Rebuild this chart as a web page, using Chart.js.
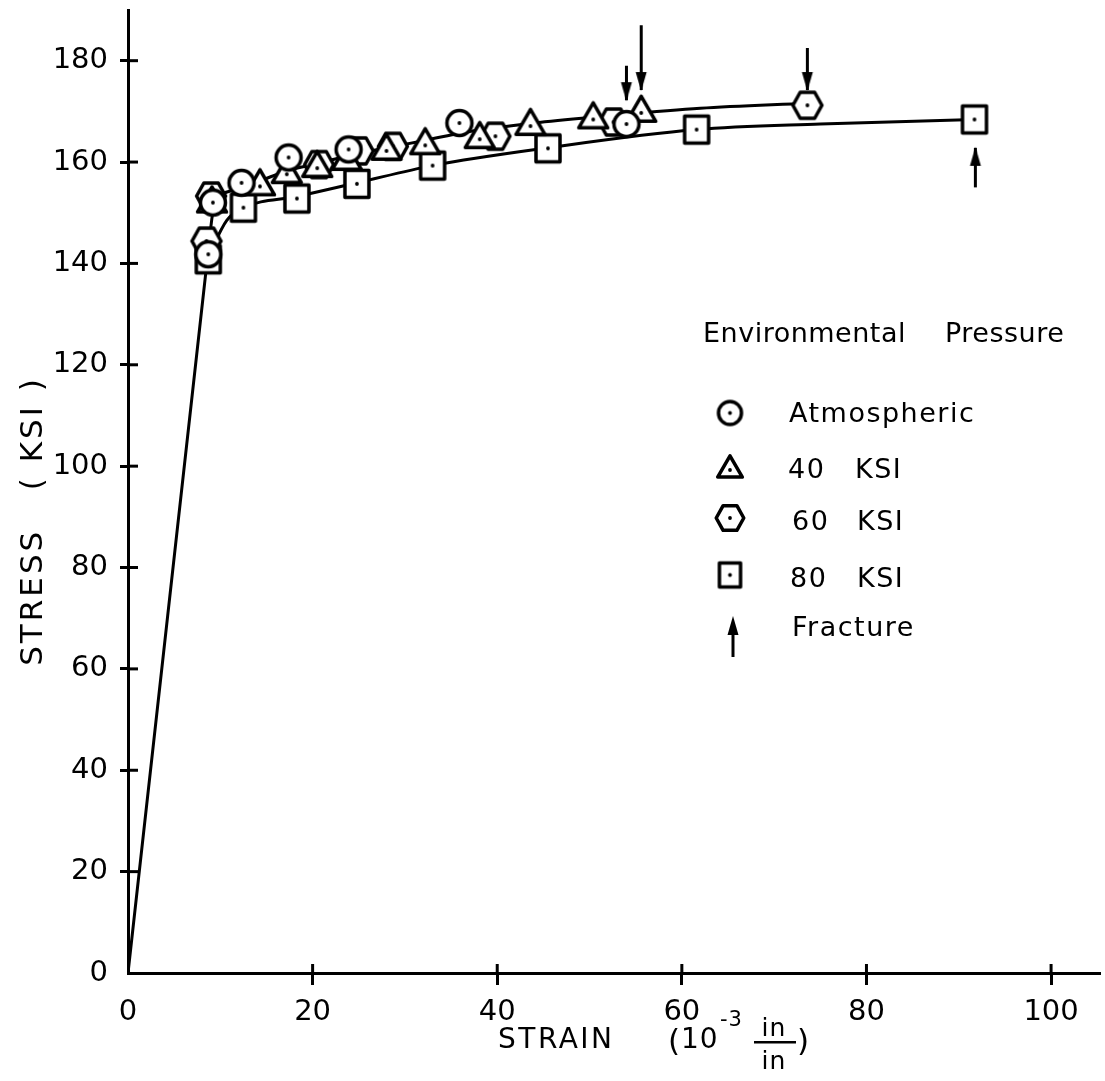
<!DOCTYPE html>
<html>
<head>
<meta charset="utf-8">
<script src="https://cdn.jsdelivr.net/npm/chart.js@4.4.1/dist/chart.umd.min.js"></script>
<style>
    html, body { margin: 0; padding: 0; background: #fff; }
</style>
</head>
<body>
<canvas id="chart" width="1105" height="1081"></canvas>
<script>
// fitted curves (strain in 10^-3 in/in, stress in ksi)
const elasticStrain = [0, 8.6];
const elasticStress = [0, 141];
const upperStrain = [8.6, 9.3, 11.5, 14.3, 17.3, 20.5, 24, 28, 32, 36.5, 44, 51.5, 62, 73.6];
const upperStress = [141, 151, 154.5, 156.3, 158.3, 159.7, 161.3, 162.8, 164.2, 165.9, 167.7, 169, 170.6, 171.6];
const lowerStrain = [8.6, 10.7, 12.5, 18.3, 24.8, 33, 45.5, 61.6, 75, 91.7];
const lowerStress = [141, 148.5, 151, 153.2, 155.9, 159.3, 162.8, 166.4, 167.5, 168.4];

// test points, one pair of arrays per environmental pressure
const atmStrain = [8.7, 9.2, 12.3, 17.4, 23.9, 35.9, 54.0];
const atmStress = [141.8, 152, 155.9, 160.9, 162.5, 167.7, 167.5];
const ksi40Strain = [9.1, 14.3, 17.2, 20.5, 23.7, 28.0, 32.2, 38.1, 43.6, 50.4, 55.6];
const ksi40Stress = [151.8, 155.2, 157.6, 158.8, 160.2, 162.2, 163.3, 164.5, 167.1, 168.4, 169.7];
const ksi60Strain = [8.5, 9.0, 20.7, 25.0, 28.7, 39.8, 52.6, 73.6];
const ksi60Stress = [144.4, 153.3, 159.5, 162.2, 163.1, 165.1, 167.9, 171.2];
const ksi80Strain = [8.7, 12.5, 18.3, 24.8, 33.0, 45.5, 61.6, 91.7];
const ksi80Stress = [140.8, 151, 152.8, 155.7, 159.3, 162.7, 166.4, 168.4];

// fracture arrows: tail -> tip
const arrowStrain = [54.0, 55.6, 73.6, 91.8];
const arrowTail = [179, 187, 182.5, 155];
const arrowTip = [172.2, 174.2, 174.2, 162.8];

const FONT = 'DejaVu Sans';
Chart.defaults.font.family = FONT;
Chart.defaults.color = '#000';

function makeMarker(shape, s) {
    const c = document.createElement('canvas');
    c.width = Math.round(42 * s);
    c.height = Math.round(42 * s);
    const ctx = c.getContext('2d');
    const cx = c.width / 2, cy = c.height / 2;
    ctx.lineWidth = 3.5;
    ctx.strokeStyle = '#000';
    ctx.fillStyle = '#fff';
    ctx.lineJoin = 'round';
    ctx.beginPath();
    if (shape === 'circle') {
        ctx.arc(cx, cy, 12.5 * s, 0, Math.PI * 2);
    } else if (shape === 'triangle') {
        const a = 29 * s, h = a * Math.sqrt(3) / 2;
        ctx.moveTo(cx, cy - 2 * h / 3);
        ctx.lineTo(cx + a / 2, cy + h / 3);
        ctx.lineTo(cx - a / 2, cy + h / 3);
        ctx.closePath();
    } else if (shape === 'hexagon') {
        const rx = 14.5 * s, ry = 13 * s;
        ctx.moveTo(cx - rx, cy);
        ctx.lineTo(cx - rx / 2, cy - ry);
        ctx.lineTo(cx + rx / 2, cy - ry);
        ctx.lineTo(cx + rx, cy);
        ctx.lineTo(cx + rx / 2, cy + ry);
        ctx.lineTo(cx - rx / 2, cy + ry);
        ctx.closePath();
    } else {
        ctx.rect(cx - 12 * s, cy - 13.5 * s, 24 * s, 27 * s);
    }
    ctx.fill();
    ctx.stroke();
    ctx.fillStyle = '#000';
    ctx.beginPath();
    ctx.arc(cx, cy, 1.9, 0, Math.PI * 2);
    ctx.fill();
    return c;
}

// arrow head with its tip at the canvas centre, pointing up
function makeArrowHead() {
    const c = document.createElement('canvas');
    c.width = 14;
    c.height = 40;
    const ctx = c.getContext('2d');
    ctx.fillStyle = '#000';
    ctx.beginPath();
    ctx.moveTo(7, 19);
    ctx.lineTo(12.5, 38);
    ctx.lineTo(1.5, 38);
    ctx.closePath();
    ctx.fill();
    return c;
}

const markers = {
    circle: makeMarker('circle', 1),
    triangle: makeMarker('triangle', 1),
    hexagon: makeMarker('hexagon', 1),
    square: makeMarker('square', 1),
};
const legendMarkers = {
    circle: makeMarker('circle', 0.92),
    triangle: makeMarker('triangle', 0.85),
    hexagon: makeMarker('hexagon', 0.95),
    square: makeMarker('square', 0.88),
};
const arrowHead = makeArrowHead();

function toPoints(xs, ys) {
    return xs.map((x, i) => ({ x: x, y: ys[i] }));
}

function curveDataset(xs, ys) {
    return {
        type: 'line',
        data: toPoints(xs, ys),
        borderColor: '#000',
        borderWidth: 3,
        pointRadius: 0,
        cubicInterpolationMode: 'monotone',
        fill: false,
        order: 10,
    };
}

function markerDataset(label, xs, ys, style) {
    return {
        type: 'line',
        label: label,
        data: toPoints(xs, ys),
        showLine: false,
        pointStyle: style,
        pointRadius: 12,
        order: 1,
    };
}

const arrowDatasets = arrowStrain.map((x, i) => ({
    type: 'line',
    data: [{ x: x, y: arrowTail[i] }, { x: x, y: arrowTip[i] }],
    borderColor: '#000',
    borderWidth: 3,
    pointRadius: [0, 6],
    pointStyle: arrowHead,
    rotation: arrowTip[i] > arrowTail[i] ? 0 : 180,
    order: 5,
}));

// inner half of the tick marks (Chart.js only draws them outside)
const innerTicks = {
    id: 'innerTicks',
    afterDraw(chart) {
        const ctx = chart.ctx;
        const area = chart.chartArea;
        const xs = chart.scales.x, ys = chart.scales.y;
        ctx.save();
        ctx.strokeStyle = '#000';
        ctx.lineWidth = 3;
        xs.ticks.forEach(t => {
            if (t.value === 0) return;
            const px = xs.getPixelForValue(t.value);
            ctx.beginPath();
            ctx.moveTo(px, area.bottom);
            ctx.lineTo(px, area.bottom - 9);
            ctx.stroke();
        });
        ys.ticks.forEach(t => {
            if (t.value === 0) return;
            const py = ys.getPixelForValue(t.value);
            ctx.beginPath();
            ctx.moveTo(area.left, py);
            ctx.lineTo(area.left + 10, py);
            ctx.stroke();
        });
        ctx.restore();
    }
};

// axis titles and the legend box
const annotations = {
    id: 'annotations',
    afterDraw(chart) {
        const ctx = chart.ctx;
        ctx.save();
        ctx.fillStyle = '#000';
        ctx.textBaseline = 'alphabetic';

        // y title
        ctx.save();
        ctx.translate(42, 521);
        ctx.rotate(-Math.PI / 2);
        ctx.textAlign = 'center';
        ctx.font = '31px "' + FONT + '"';
        ctx.letterSpacing = '3px';
        ctx.fillText('STRESS   ( KSI )', 0, 0);
        ctx.restore();

        // x title
        ctx.textAlign = 'left';
        ctx.font = '28px "' + FONT + '"';
        ctx.letterSpacing = '2.5px';
        ctx.fillText('STRAIN', 498, 1048);
        ctx.letterSpacing = '1px';
        ctx.font = '31px "' + FONT + '"';
        ctx.fillText('(', 668, 1051);
        ctx.font = '28px "' + FONT + '"';
        ctx.fillText('10', 681, 1048);
        ctx.font = '21px "' + FONT + '"';
        ctx.fillText('-3', 720, 1026);
        ctx.font = '25px "' + FONT + '"';
        ctx.textAlign = 'center';
        ctx.fillText('in', 774, 1036);
        ctx.fillText('in', 774, 1069);
        ctx.fillRect(754, 1041, 42, 2.5);
        ctx.textAlign = 'left';
        ctx.font = '31px "' + FONT + '"';
        ctx.fillText(')', 797, 1051);

        // legend
        ctx.font = '27px "' + FONT + '"';
        ctx.letterSpacing = '0.5px';
        ctx.fillText('Environmental', 703, 342);
        ctx.fillText('Pressure', 945, 342);
        ctx.letterSpacing = '1.5px';
        const rows = [
            { m: 'circle', y: 413, parts: [['Atmospheric', 789]], base: 422 },
            { m: 'triangle', y: 470, parts: [['40', 788], ['KSI', 855]], base: 478 },
            { m: 'hexagon', y: 518, parts: [['60', 792], ['KSI', 857]], base: 530 },
            { m: 'square', y: 575, parts: [['80', 790], ['KSI', 857]], base: 587 },
        ];
        rows.forEach(r => {
            const img = legendMarkers[r.m];
            ctx.drawImage(img, 730 - img.width / 2, r.y - img.height / 2);
            r.parts.forEach(p => ctx.fillText(p[0], p[1], r.base));
        });
        ctx.fillText('Fracture', 792, 636);
        ctx.lineWidth = 3;
        ctx.beginPath();
        ctx.moveTo(733, 657);
        ctx.lineTo(733, 625);
        ctx.stroke();
        ctx.drawImage(arrowHead, 733 - arrowHead.width / 2, 617 - arrowHead.height / 2);
        ctx.restore();
    }
};

const hideZeroTick = (c) => (c.tick && c.tick.value === 0 ? 'rgba(0,0,0,0)' : '#000');

new Chart(document.getElementById('chart'), {
    data: {
        datasets: [
            curveDataset(elasticStrain, elasticStress),
            curveDataset(upperStrain, upperStress),
            curveDataset(lowerStrain, lowerStress),
            markerDataset('Atmospheric', atmStrain, atmStress, markers.circle),
            markerDataset('40 KSI', ksi40Strain, ksi40Stress, markers.triangle),
            markerDataset('60 KSI', ksi60Strain, ksi60Stress, markers.hexagon),
            markerDataset('80 KSI', ksi80Strain, ksi80Stress, markers.square),
            ...arrowDatasets,
        ],
    },
    options: {
        responsive: false,
        animation: false,
        layout: {
            autoPadding: false,
            padding: { top: 10, right: 5, left: 0, bottom: 0 },
        },
        plugins: {
            legend: { display: false },
            tooltip: { enabled: false },
        },
        scales: {
            x: {
                type: 'linear',
                min: 0,
                max: 105.3,
                afterFit: (scale) => {
                    scale.height = 108;
                    scale.paddingLeft = 0;
                    scale.paddingRight = 0;
                },
                afterBuildTicks: (scale) => {
                    scale.ticks = scale.ticks.filter(t => t.value % 20 === 0);
                },
                ticks: {
                    stepSize: 20,
                    includeBounds: false,
                    color: '#000',
                    padding: 10,
                    maxRotation: 0,
                    font: { size: 29 },
                },
                grid: {
                    drawOnChartArea: false,
                    tickLength: 12,
                    tickWidth: 3,
                    tickColor: hideZeroTick,
                },
                border: { color: '#000', width: 3 },
            },
            y: {
                type: 'linear',
                min: 0,
                max: 190,
                afterFit: (scale) => {
                    scale.width = 128;
                    scale.paddingTop = 0;
                    scale.paddingBottom = 0;
                },
                afterBuildTicks: (scale) => {
                    scale.ticks = scale.ticks.filter(t => t.value % 20 === 0);
                },
                ticks: {
                    stepSize: 20,
                    includeBounds: false,
                    color: '#000',
                    padding: 12,
                    font: { size: 29 },
                },
                grid: {
                    drawOnChartArea: false,
                    tickLength: 8,
                    tickWidth: 3,
                    tickColor: hideZeroTick,
                },
                border: { color: '#000', width: 3 },
            },
        },
    },
    plugins: [innerTicks, annotations],
});
</script>
</body>
</html>
